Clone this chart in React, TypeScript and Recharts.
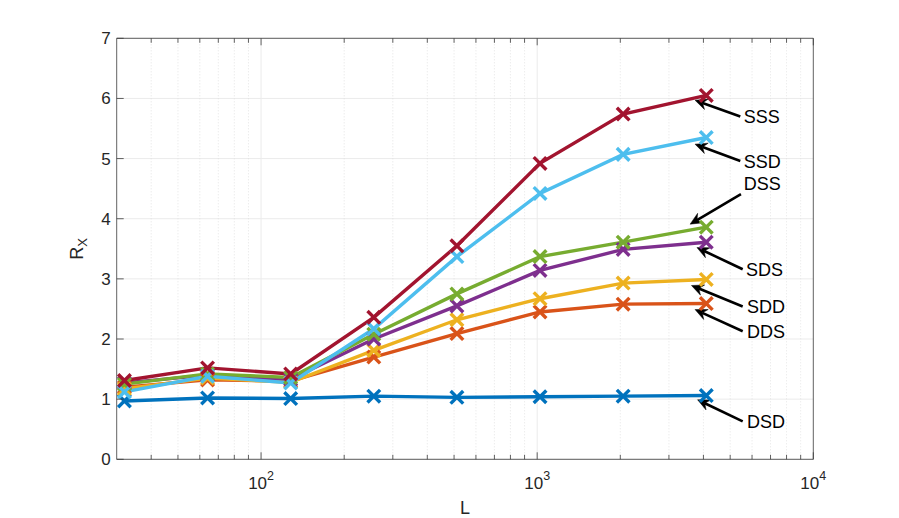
import React from 'react';
import { LineChart, Line, XAxis, YAxis, CartesianGrid, ReferenceLine, ReferenceDot } from 'recharts';

const L = [32, 64, 128, 256, 512, 1024, 2048, 4096];
const DSD = [0.97, 1.02, 1.01, 1.05, 1.03, 1.04, 1.05, 1.06];
const DDS = [1.2, 1.32, 1.3, 1.7, 2.09, 2.45, 2.58, 2.59];
const SDD = [1.17, 1.35, 1.28, 1.81, 2.32, 2.67, 2.93, 2.99];
const SDS = [1.27, 1.4, 1.33, 2.0, 2.55, 3.14, 3.49, 3.61];
const DSS = [1.25, 1.42, 1.36, 2.08, 2.75, 3.37, 3.61, 3.86];
const SSD = [1.12, 1.38, 1.27, 2.17, 3.37, 4.42, 5.07, 5.35];
const SSS = [1.31, 1.52, 1.42, 2.36, 3.55, 4.92, 5.74, 6.05];

const seriesNames = ['DSD', 'DDS', 'SDD', 'SDS', 'DSS', 'SSD', 'SSS'];
const seriesValues = [DSD, DDS, SDD, SDS, DSS, SSD, SSS];
const seriesColors = ['#0072BD', '#D95319', '#EDB120', '#7E2F8E', '#77AC30', '#4DBEEE', '#A2142F'];

const xMajorTicks = [100, 1000, 10000];
const xMinorTicks = [40, 50, 60, 70, 80, 90, 200, 300, 400, 500, 600, 700, 800, 900, 2000, 3000, 4000, 5000, 6000, 7000, 8000, 9000];
const xAllTicks = [...xMajorTicks, ...xMinorTicks].sort((a, b) => a - b);
const yTicks = [0, 1, 2, 3, 4, 5, 6, 7];

const annLabels = ['SSS', 'SSD', 'DSS', 'SDS', 'SDD', 'DDS', 'DSD'];
const annTipX = [3730, 3730, 3580, 3790, 3620, 3730, 3810];
const annTipY = [5.97, 5.24, 3.91, 3.52, 2.89, 2.49, 0.99];
const annTailX = [5440, 5440, 5470, 5550, 5550, 5550, 5550];
const annTailY = [5.7, 4.96, 4.41, 3.16, 2.54, 2.13, 0.63];
const annTextX = [5600, 5600, 5600, 5700, 5750, 5750, 5750];
const annTextY = [5.7, 4.95, 4.59, 3.16, 2.54, 2.13, 0.63];

const data = L.map((l, i) => {
  const row: Record<string, number> = { L: l };
  seriesNames.forEach((n, k) => {
    row[n] = seriesValues[k][i];
  });
  return row;
});

const FONT = '"Liberation Sans", Arial, Helvetica, sans-serif';
const TXT = '#262626';
const AX = '#3a3a3a';

const isMajor = (v: number) => xMajorTicks.includes(v);

const BottomTick = (p: any) => {
  const { x, y, payload } = p;
  const v = payload.value;
  const major = isMajor(v);
  return (
    <g>
      <line x1={x} x2={x} y1={y} y2={y - (major ? 7 : 4.5)} stroke={AX} strokeWidth={0.8} />
      {major && (
        <text x={x} y={y + 30} textAnchor="middle" fontFamily={FONT} fontSize={17} fill={TXT}>
          10
          <tspan dy={-9} fontSize={12.5}>{Math.round(Math.log10(v))}</tspan>
        </text>
      )}
    </g>
  );
};

const TopTick = (p: any) => {
  const { x, y, payload } = p;
  const major = isMajor(payload.value);
  return <line x1={x} x2={x} y1={y} y2={y + (major ? 7 : 4.5)} stroke={AX} strokeWidth={0.8} />;
};

const LeftTick = (p: any) => {
  const { x, y, payload } = p;
  return (
    <g>
      <line x1={x} x2={x + 7} y1={y} y2={y} stroke={AX} strokeWidth={0.8} />
      <text x={x - 6} y={y + 6} textAnchor="end" fontFamily={FONT} fontSize={17} fill={TXT}>
        {payload.value}
      </text>
    </g>
  );
};

const RightTick = (p: any) => {
  const { x, y } = p;
  return <line x1={x} x2={x - 7} y1={y} y2={y} stroke={AX} strokeWidth={0.8} />;
};

const XMarker = (p: any) => {
  const { cx, cy, stroke } = p;
  if (cx == null || cy == null) return <g />;
  const h = 6.3;
  return (
    <path
      d={`M${cx - h},${cy - h}L${cx + h},${cy + h}M${cx - h},${cy + h}L${cx + h},${cy - h}`}
      stroke={stroke}
      strokeWidth={3.4}
      fill="none"
    />
  );
};

const Arrow = (p: any) => {
  const { x1, y1, x2, y2 } = p;
  if ([x1, y1, x2, y2].some((v) => v == null || isNaN(v))) return <g />;
  const dx = x2 - x1;
  const dy = y2 - y1;
  const len = Math.hypot(dx, dy) || 1;
  const ux = dx / len;
  const uy = dy / len;
  const hl = 12;
  const hw = 5.5;
  const notch = 4;
  const bx = x2 - ux * hl;
  const by = y2 - uy * hl;
  const nx = -uy;
  const ny = ux;
  const mx = x2 - ux * (hl - notch);
  const my = y2 - uy * (hl - notch);
  const pts = [
    [x2, y2],
    [bx + nx * hw, by + ny * hw],
    [mx, my],
    [bx - nx * hw, by - ny * hw],
  ]
    .map((q) => q.join(','))
    .join(' ');
  return (
    <g>
      <line x1={x1} y1={y1} x2={mx} y2={my} stroke="#000" strokeWidth={2.6} />
      <polygon points={pts} fill="#000" stroke="#000" strokeWidth={0.5} />
    </g>
  );
};

const makeLabel = (label: string) => (p: any) => {
  const { cx, cy } = p;
  if (cx == null || cy == null) return <g />;
  return (
    <text x={cx} y={cy + 6.5} fontFamily={FONT} fontSize={18} fill="#000">
      {label}
    </text>
  );
};

const YLabel = (p: any) => {
  const vb = p.viewBox || {};
  const cy = (vb.y ?? 38) + (vb.height ?? 421) / 2;
  const cx = 83;
  return (
    <text
      x={cx}
      y={cy}
      transform={`rotate(-90 ${cx} ${cy})`}
      textAnchor="middle"
      fontFamily={FONT}
      fontSize={18}
      fill={TXT}
    >
      R
      <tspan dy={4} fontSize={13}>X</tspan>
    </text>
  );
};

const XLabel = (p: any) => {
  const vb = p.viewBox || {};
  const cx = (vb.x ?? 117) + (vb.width ?? 696) / 2;
  return (
    <text x={cx} y={514} textAnchor="middle" fontFamily={FONT} fontSize={18} fill={TXT}>
      L
    </text>
  );
};

export default function App() {
  return (
    <div style={{ width: 899, height: 518, background: '#fff' }}>
      <style>{`body{margin:0;overflow:hidden;background:#fff}`}</style>
      <LineChart
        width={899}
        height={518}
        data={data}
        margin={{ top: 37.3, right: 84.7, bottom: 28.7, left: 56.7 }}
      >
        <CartesianGrid vertical={false} stroke="#ebebeb" strokeWidth={1} />
        {xMinorTicks.map((v) => (
          <ReferenceLine key={`mn${v}`} x={v} stroke="#dedede" strokeDasharray="1 2" strokeWidth={0.8} />
        ))}
        {xMajorTicks.slice(0, 2).map((v) => (
          <ReferenceLine key={`mj${v}`} x={v} stroke="#ebebeb" strokeWidth={1} />
        ))}
        <XAxis
          dataKey="L"
          type="number"
          scale="log"
          domain={[30, 10000]}
          allowDataOverflow
          ticks={xAllTicks}
          interval={0}
          tick={BottomTick}
          tickLine={false}
          tickSize={0}
          tickMargin={0}
          axisLine={{ stroke: AX, strokeWidth: 0.8 }}
          height={30}
          label={XLabel}
        />
        <XAxis
          xAxisId="top"
          orientation="top"
          dataKey="L"
          type="number"
          scale="log"
          domain={[30, 10000]}
          allowDataOverflow
          ticks={xAllTicks}
          interval={0}
          tick={TopTick}
          tickLine={false}
          tickSize={0}
          tickMargin={0}
          axisLine={{ stroke: AX, strokeWidth: 0.8 }}
          height={1}
        />
        <YAxis
          type="number"
          domain={[0, 7]}
          ticks={yTicks}
          interval={0}
          tick={LeftTick}
          tickLine={false}
          tickSize={0}
          tickMargin={0}
          axisLine={{ stroke: AX, strokeWidth: 0.8 }}
          width={60}
          label={YLabel}
        />
        <YAxis
          yAxisId="r"
          orientation="right"
          type="number"
          domain={[0, 7]}
          ticks={yTicks}
          interval={0}
          tick={RightTick}
          tickLine={false}
          tickSize={0}
          tickMargin={0}
          axisLine={{ stroke: AX, strokeWidth: 0.8 }}
          width={1}
        />
        {seriesNames.map((n, k) => (
          <Line
            key={n}
            dataKey={n}
            stroke={seriesColors[k]}
            strokeWidth={3.4}
            dot={XMarker}
            activeDot={false}
            isAnimationActive={false}
          />
        ))}
        {annLabels.map((lab, i) => (
          <ReferenceLine
            key={`a${lab}`}
            segment={[
              { x: annTailX[i], y: annTailY[i] },
              { x: annTipX[i], y: annTipY[i] },
            ]}
            shape={Arrow}
          />
        ))}
        {annLabels.map((lab, i) => (
          <ReferenceDot key={`t${lab}`} x={annTextX[i]} y={annTextY[i]} r={0} shape={makeLabel(lab)} />
        ))}
      </LineChart>
    </div>
  );
}
